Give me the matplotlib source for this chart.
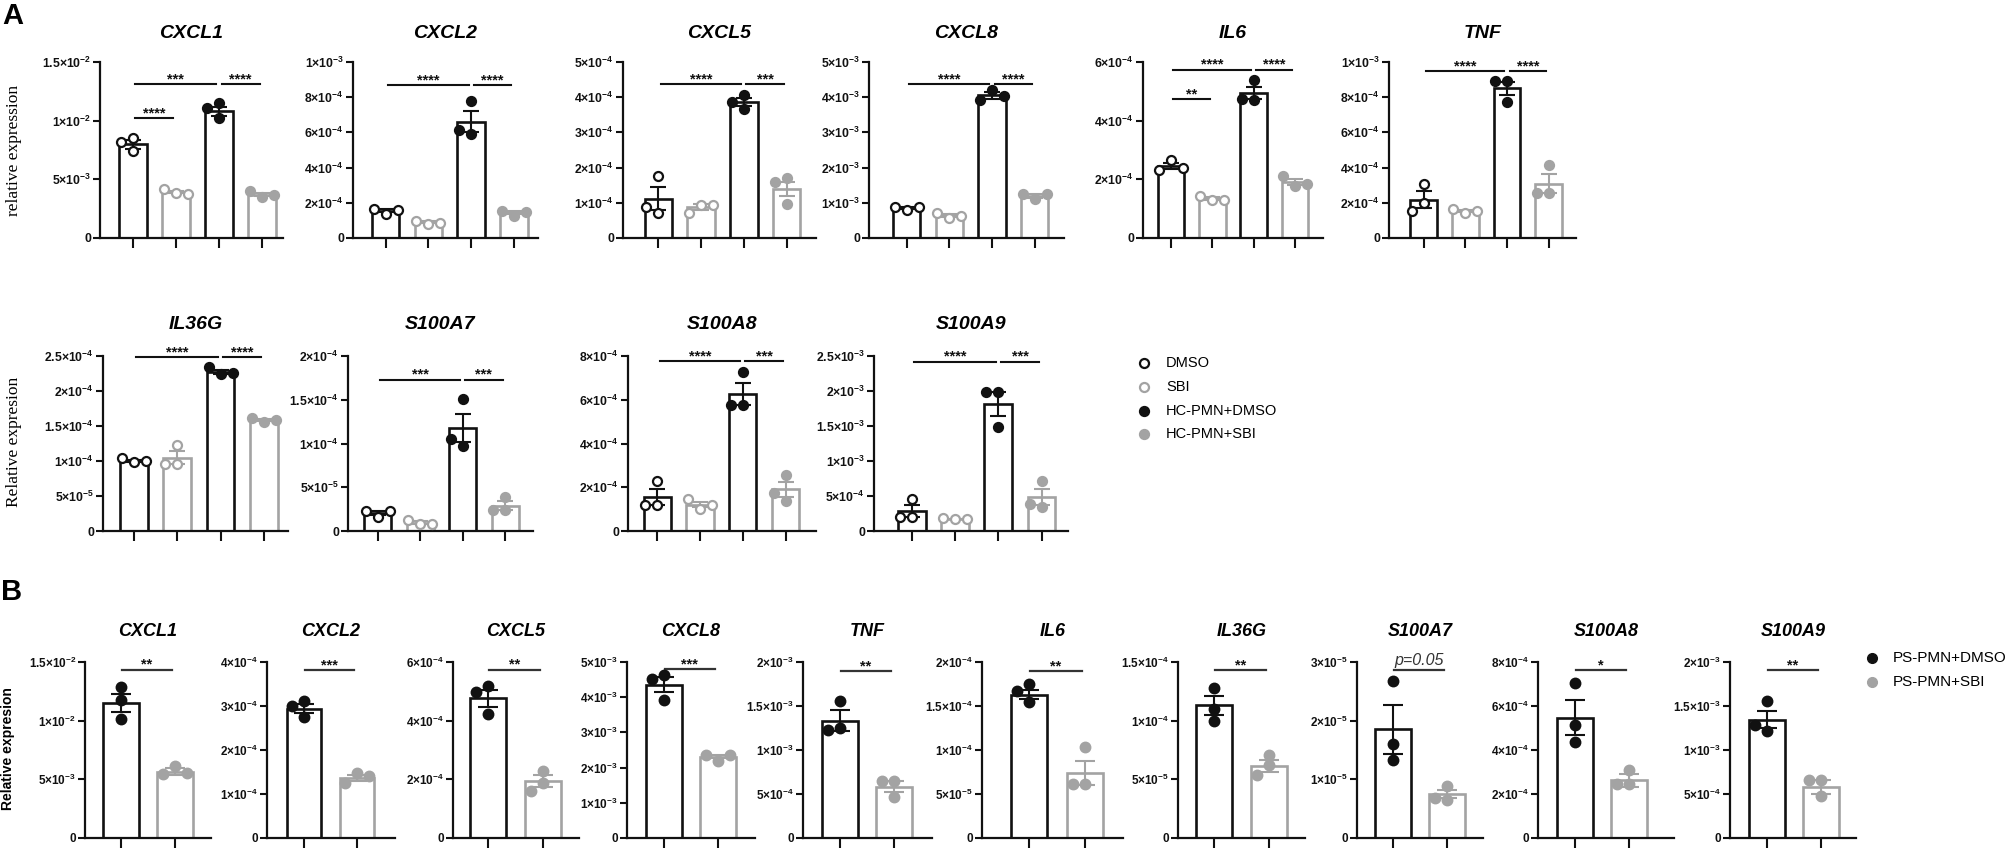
import numpy as np
import matplotlib
matplotlib.use("Agg")
import matplotlib.pyplot as plt
from matplotlib.lines import Line2D

plt.rcParams['font.family'] = ['Liberation Sans', 'DejaVu Sans']
plt.rcParams['mathtext.default'] = 'regular'

W, H = 2008, 848
BLACK = '#111111'
GRAY = '#a3a3a3'

# ---------------- panel A data (values in units of a_unit) ----------------
a_genes = ['CXCL1', 'CXCL2', 'CXCL5', 'CXCL8', 'IL6', 'TNF',
           'IL36G', 'S100A7', 'S100A8', 'S100A9']
a_groups = ['DMSO', 'SBI', 'HC-PMN+DMSO', 'HC-PMN+SBI']
a_unit = {'CXCL1': 1e-3, 'CXCL2': 1e-4, 'CXCL5': 1e-4, 'CXCL8': 1e-3, 'IL6': 1e-4,
          'TNF': 1e-4, 'IL36G': 1e-5, 'S100A7': 1e-5, 'S100A8': 1e-4, 'S100A9': 1e-4}
a_means = {
    'CXCL1': [8.0, 3.9, 10.8, 3.7],
    'CXCL2': [1.55, 0.9, 6.6, 1.45],
    'CXCL5': [1.12, 0.88, 3.87, 1.38],
    'CXCL8': [0.85, 0.64, 4.05, 1.2],
    'IL6': [2.45, 1.35, 4.95, 1.9],
    'TNF': [2.18, 1.53, 8.5, 3.08],
    'IL36G': [10.0, 10.5, 22.7, 15.9],
    'S100A7': [2.05, 0.95, 11.8, 2.9],
    'S100A8': [1.55, 1.2, 6.25, 1.9],
    'S100A9': [2.85, 1.75, 18.1, 4.8],
}
a_sem = {
    'CXCL1': [0.39, 0.1, 0.4, 0.12],
    'CXCL2': [0.07, 0.05, 0.6, 0.07],
    'CXCL5': [0.33, 0.08, 0.12, 0.2],
    'CXCL8': [0.03, 0.04, 0.09, 0.05],
    'IL6': [0.1, 0.04, 0.2, 0.1],
    'TNF': [0.47, 0.08, 0.37, 0.55],
    'IL36G': [0.2, 0.9, 0.3, 0.15],
    'S100A7': [0.25, 0.17, 1.6, 0.5],
    'S100A8': [0.37, 0.12, 0.5, 0.35],
    'S100A9': [0.85, 0.03, 1.7, 1.15],
}
a_points = {
    'CXCL1': [[8.5, 7.4, 8.2], [3.8, 4.15, 3.75], [11.5, 10.2, 11.1], [3.5, 4.0, 3.7]],
    'CXCL2': [[1.38, 1.65, 1.58], [0.82, 0.98, 0.86], [5.9, 7.8, 6.15], [1.25, 1.52, 1.5]],
    'CXCL5': [[0.72, 1.77, 0.88], [0.95, 0.72, 0.95], [4.07, 3.67, 3.86], [1.70, 0.97, 1.58]],
    'CXCL8': [[0.80, 0.88, 0.87], [0.58, 0.72, 0.62], [4.2, 3.93, 4.02], [1.1, 1.26, 1.25]],
    'IL6': [[2.65, 2.33, 2.4], [1.31, 1.42, 1.31], [5.37, 4.72, 4.75], [1.78, 2.1, 1.85]],
    'TNF': [[3.07, 1.99, 1.52], [1.42, 1.67, 1.52], [8.9, 7.75, 8.9], [4.13, 2.56, 2.56]],
    'IL36G': [[9.8, 10.5, 10.0], [9.6, 12.3, 9.6], [22.4, 23.5, 22.6], [15.6, 16.2, 15.9]],
    'S100A7': [[1.6, 2.3, 2.25], [0.75, 1.3, 0.8], [15.1, 9.7, 10.5], [3.9, 2.4, 2.35]],
    'S100A8': [[2.27, 1.2, 1.2], [1.0, 1.45, 1.17], [7.27, 5.74, 5.74], [2.56, 1.35, 1.75]],
    'S100A9': [[4.6, 2.0, 2.0], [1.7, 1.8, 1.75], [19.8, 19.8, 14.8], [7.1, 3.4, 3.8]],
}
a_ymax = {'CXCL1': 15, 'CXCL2': 10, 'CXCL5': 5, 'CXCL8': 5, 'IL6': 6, 'TNF': 10,
          'IL36G': 25, 'S100A7': 20, 'S100A8': 8, 'S100A9': 25}
a_step = {'CXCL1': 5, 'CXCL2': 2, 'CXCL5': 1, 'CXCL8': 1, 'IL6': 2, 'TNF': 2,
          'IL36G': 5, 'S100A7': 5, 'S100A8': 2, 'S100A9': 5}
a_sig = {
    'CXCL1': [(0, 2, '***', 13.1), (2, 3, '****', 13.1), (0, 1, '****', 10.2)],
    'CXCL2': [(0, 2, '****', 8.7), (2, 3, '****', 8.7)],
    'CXCL5': [(0, 2, '****', 4.38), (2, 3, '***', 4.38)],
    'CXCL8': [(0, 2, '****', 4.38), (2, 3, '****', 4.38)],
    'IL6': [(0, 2, '****', 5.74), (2, 3, '****', 5.74), (0, 1, '**', 4.74)],
    'TNF': [(0, 2, '****', 9.47), (2, 3, '****', 9.47)],
    'IL36G': [(0, 2, '****', 24.8), (2, 3, '****', 24.8)],
    'S100A7': [(0, 2, '***', 17.3), (2, 3, '***', 17.3)],
    'S100A8': [(0, 2, '****', 7.76), (2, 3, '***', 7.76)],
    'S100A9': [(0, 2, '****', 24.2), (2, 3, '***', 24.2)],
}

# ---------------- panel B data ----------------
b_genes = ['CXCL1', 'CXCL2', 'CXCL5', 'CXCL8', 'TNF', 'IL6', 'IL36G',
           'S100A7', 'S100A8', 'S100A9']
b_groups = ['PS-PMN+DMSO', 'PS-PMN+SBI']
b_unit = {'CXCL1': 1e-3, 'CXCL2': 1e-4, 'CXCL5': 1e-4, 'CXCL8': 1e-3, 'TNF': 1e-4,
          'IL6': 1e-5, 'IL36G': 1e-5, 'S100A7': 1e-5, 'S100A8': 1e-4, 'S100A9': 1e-4}
b_means = {
    'CXCL1': [11.5, 5.63], 'CXCL2': [2.94, 1.36], 'CXCL5': [4.76, 1.95],
    'CXCL8': [4.36, 2.31], 'TNF': [13.35, 5.85], 'IL6': [16.3, 7.4],
    'IL36G': [11.3, 6.15], 'S100A7': [1.85, 0.75], 'S100A8': [5.47, 2.62],
    'S100A9': [13.45, 5.8],
}
b_sem = {
    'CXCL1': [0.8, 0.3], 'CXCL2': [0.1, 0.07], 'CXCL5': [0.3, 0.2],
    'CXCL8': [0.22, 0.05], 'TNF': [1.15, 0.6], 'IL6': [0.55, 1.4],
    'IL36G': [0.8, 0.5], 'S100A7': [0.41, 0.07], 'S100A8': [0.8, 0.3],
    'S100A9': [1.0, 0.8],
}
b_points = {
    'CXCL1': [[12.9, 11.8, 10.16], [6.17, 5.46, 5.52]],
    'CXCL2': [[3.12, 3.0, 2.75], [1.47, 1.25, 1.42]],
    'CXCL5': [[5.18, 4.98, 4.22], [2.3, 1.89, 1.59]],
    'CXCL8': [[4.62, 4.53, 3.93], [2.2, 2.36, 2.36]],
    'TNF': [[15.57, 12.49, 12.3], [6.49, 6.49, 4.61]],
    'IL6': [[17.5, 16.7, 15.5], [10.3, 6.1, 6.1]],
    'IL36G': [[12.8, 11.0, 10.0], [7.1, 6.2, 5.35]],
    'S100A7': [[2.67, 1.6, 1.33], [0.89, 0.65, 0.68]],
    'S100A8': [[7.05, 5.12, 4.36], [3.1, 2.47, 2.47]],
    'S100A9': [[15.53, 12.16, 12.8], [6.63, 6.63, 4.73]],
}
b_ymax = {'CXCL1': 15, 'CXCL2': 4, 'CXCL5': 6, 'CXCL8': 5, 'TNF': 20, 'IL6': 20,
          'IL36G': 15, 'S100A7': 3, 'S100A8': 8, 'S100A9': 20}
b_step = {'CXCL1': 5, 'CXCL2': 1, 'CXCL5': 2, 'CXCL8': 1, 'TNF': 5, 'IL6': 5,
          'IL36G': 5, 'S100A7': 1, 'S100A8': 2, 'S100A9': 5}
b_sig = {'CXCL1': ('**', 14.35), 'CXCL2': ('***', 3.81), 'CXCL5': ('**', 5.74),
         'CXCL8': ('***', 4.81), 'TNF': ('**', 19.0), 'IL6': ('**', 19.0),
         'IL36G': ('**', 14.3), 'S100A7': ('p=0.05', 2.86), 'S100A8': ('*', 7.65),
         'S100A9': ('**', 19.1)}

# ---------------- layout (pixels): spine x, first bar x, bar spacing, axis end ----------------
a_layout = {
    'CXCL1': (100, 132.8, 43.1, 283), 'CXCL2': (353, 385.5, 42.8, 538),
    'CXCL5': (623, 658.3, 42.8, 816), 'CXCL8': (869, 906.6, 42.7, 1064),
    'IL6': (1143, 1171, 41.3, 1323), 'TNF': (1389, 1423.6, 41.7, 1576),
    'IL36G': (103, 133.8, 43.4, 288), 'S100A7': (348, 377.6, 42.5, 533),
    'S100A8': (628, 657.2, 42.8, 816), 'S100A9': (874, 911.7, 43.3, 1068),
}
a_rows = {g: (238, 62, 33) if i < 6 else (531, 356, 325) for i, g in enumerate(a_genes)}
b_layout = {
    'CXCL1': (85, 121, 54, 211), 'CXCL2': (267, 304, 53, 395),
    'CXCL5': (453, 488, 55, 579), 'CXCL8': (627, 664, 54, 755),
    'TNF': (803, 840, 54, 932), 'IL6': (982, 1029, 56, 1123),
    'IL36G': (1178, 1214, 55, 1305), 'S100A7': (1357, 1393, 54, 1483),
    'S100A8': (1538, 1575, 54, 1674), 'S100A9': (1730, 1767, 54, 1856),
}
b_row = (838, 662, 632)


def fx(x):
    return x / W


def fy(y):
    return 1 - y / H


def sci_label(v):
    if v == 0:
        return '0'
    e = int(np.floor(np.log10(v) + 1e-9))
    m = round(v / 10 ** e, 3)
    return f'{m:g}×10$^{{{e}}}$'


def swarm(ax, x0, vals, step):
    # spread overlapping points sideways, GraphPad style
    placed, xs = [], []
    inv = ax.transData.inverted()
    for v in vals:
        px, py = ax.transData.transform((x0, v))
        for k in [0, -1, 1, -2, 2]:
            cx = px + k * step
            if all((cx - qx) ** 2 + (py - qy) ** 2 >= (step * 0.85) ** 2 for qx, qy in placed):
                break
        placed.append((cx, py))
        xs.append(inv.transform((cx, py))[0])
    return xs


def make_axes(lay, row):
    spine, first, sp, end = lay
    zero, top = row[0], row[1]
    ax = fig.add_axes([fx(spine), fy(zero), (end - spine) / W, (zero - top) / H])
    ax.set_xlim((spine - first) / sp, (end - first) / sp)
    for s in ['top', 'right']:
        ax.spines[s].set_visible(False)
    for s in ['left', 'bottom']:
        ax.spines[s].set_linewidth(1.6)
        ax.spines[s].set_color(BLACK)
    ax.patch.set_alpha(0)
    return ax


def draw_panel(ax, unit, ymax, step, means, sems, points, colors, filled,
               bw, cap, ms, tick_fs):
    n = len(means)
    x = np.arange(n)
    ax.set_ylim(0, ymax)
    ticks = np.arange(0, ymax + step / 2, step)
    ax.set_yticks(ticks, labels=[sci_label(t * unit) for t in ticks],
                  fontsize=tick_fs, fontweight='bold')
    ax.set_xticks(x, labels=[''] * n)
    ax.tick_params(axis='y', length=5, width=1.5, pad=1.5, colors=BLACK)
    ax.tick_params(axis='x', length=7, width=1.5, colors=BLACK)
    ax.bar(x, means, width=bw, color='white', edgecolor=colors, linewidth=1.9, zorder=2)
    for i in range(n):
        ax.errorbar(i, means[i], yerr=sems[i], color=colors[i], capsize=cap,
                    elinewidth=1.5, capthick=1.5, zorder=3)
        xs = swarm(ax, i, points[i], 12)
        face = colors[i] if filled[i] else 'white'
        ax.scatter(xs, points[i], s=ms, facecolor=face, edgecolor=colors[i],
                   linewidth=1.6, zorder=4, clip_on=False)


def sig_text(ax, xc, y, lab, dy=0.5, **kw):
    ax.annotate(lab, xy=(xc, y), xytext=(0, dy), textcoords='offset points',
                ha='center', va='baseline', annotation_clip=False, **kw)


fig = plt.figure(figsize=(W / 100, H / 100), dpi=100)

# ---------------- panel A ----------------
a_colors = [BLACK, GRAY, BLACK, GRAY]
a_filled = [False, False, True, True]
for g in a_genes:
    ax = make_axes(a_layout[g], a_rows[g])
    draw_panel(ax, a_unit[g], a_ymax[g], a_step[g], a_means[g], a_sem[g],
               a_points[g], a_colors, a_filled, 0.64, 6, 42, 8.8)
    for i, j, lab, y in a_sig[g]:
        ax.plot([i + 0.06, j - 0.06], [y, y], color=BLACK, lw=1.5, clip_on=False)
        sig_text(ax, (i + j) / 2, y, lab, fontsize=10.5, fontweight='bold', color=BLACK)
    spine, first, sp, end = a_layout[g]
    fig.text(fx((spine + end) / 2), fy(a_rows[g][2]), g, ha='center', va='center',
             fontsize=14, fontweight='bold', fontstyle='italic')

fig.text(fx(2), fy(2), 'A', ha='left', va='top', fontsize=21, fontweight='bold')
fig.text(fx(14), fy(150), 'relative expression', rotation=90, ha='center', va='center',
         fontsize=12.5, family='Liberation Serif')
fig.text(fx(14), fy(442), 'Relative expresion', rotation=90, ha='center', va='center',
         fontsize=12.5, family='Liberation Serif')

# legend A
leg_y = [363, 387, 411, 434]
for k, lab in enumerate(a_groups):
    face = a_colors[k] if a_filled[k] else 'white'
    fig.add_artist(Line2D([fx(1144)], [fy(leg_y[k])], transform=fig.transFigure,
                          marker='o', ms=6.5, mfc=face, mec=a_colors[k], mew=1.6,
                          linestyle='none'))
    fig.text(fx(1166), fy(leg_y[k]), lab, ha='left', va='center', fontsize=10.5)

# ---------------- panel B ----------------
b_colors = [BLACK, GRAY]
for g in b_genes:
    ax = make_axes(b_layout[g], b_row)
    draw_panel(ax, b_unit[g], b_ymax[g], b_step[g], b_means[g], b_sem[g],
               b_points[g], b_colors, [True, True], 0.65, 7, 48, 8.5)
    lab, y = b_sig[g]
    ax.plot([0.02, 0.95], [y, y], color='#333333', lw=1.6, clip_on=False)
    if lab.startswith('p'):
        sig_text(ax, 0.48, y, lab, dy=4, fontsize=11.5, fontstyle='italic', color='#333333')
    else:
        sig_text(ax, 0.48, y, lab, fontsize=10.5, fontweight='bold', color=BLACK)
    spine, first, sp, end = b_layout[g]
    fig.text(fx((spine + end) / 2), fy(b_row[2]), g, ha='center', va='center',
             fontsize=13, fontweight='bold', fontstyle='italic')

fig.text(fx(1), fy(578), 'B', ha='left', va='top', fontsize=21, fontweight='bold')
fig.text(fx(8), fy(749), 'Relative expresion', rotation=90, ha='center', va='center',
         fontsize=10, fontweight='bold')

leg_by = [658, 682]
for k, lab in enumerate(b_groups):
    fig.add_artist(Line2D([fx(1872)], [fy(leg_by[k])], transform=fig.transFigure,
                          marker='o', ms=7, mfc=b_colors[k], mec=b_colors[k],
                          linestyle='none'))
    fig.text(fx(1893), fy(leg_by[k]), lab, ha='left', va='center', fontsize=11)

fig.savefig('out.png', dpi=100)
